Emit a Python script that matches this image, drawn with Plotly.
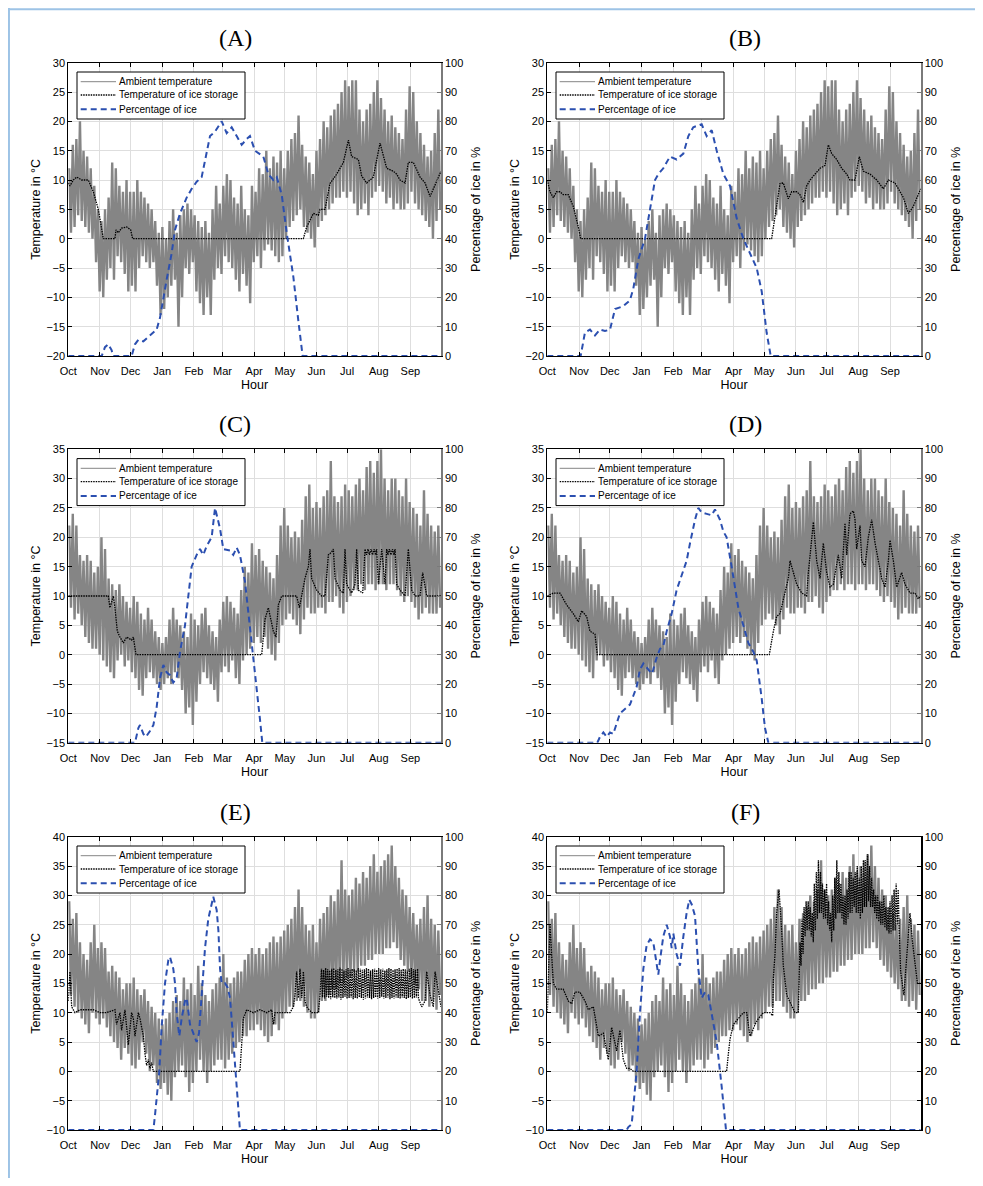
import plotly.graph_objects as go

PAGE_W, PAGE_H = 983, 1186
BODY_MARGIN = 8          # default HTML body margin: the figure starts at (8, 8) on the page
W, H = PAGE_W - 2 * BODY_MARGIN, PAGE_H - 2 * BODY_MARGIN

# ---------------- axis / label data ----------------
MONTHS = ["Oct", "Nov", "Dec", "Jan", "Feb", "Mar", "Apr", "May", "Jun", "Jul", "Aug", "Sep"]
MONTH_START_HOURS = [0, 744, 1464, 2208, 2952, 3624, 4368, 5088, 5832, 6552, 7296, 8040]
YEAR_HOURS = 8760
PANEL_LABELS = ["(A)", "(B)", "(C)", "(D)", "(E)", "(F)"]
SERIES_NAMES = ["Ambient temperature", "Temperature of ice storage", "Percentage of ice"]
TEMP_RANGES = [(-20, 30), (-20, 30), (-15, 35), (-15, 35), (-10, 40), (-10, 40)]

# ---------------- ambient temperature (half-week highs / lows, Oct -> Sep) ----------------
# climate 1 (panels A, B)
AMB1_HI = [12, 16, 17, 20, 15, 14, 12, 9, 5,
           3, 5, 7, 13, 12, 9, 8, 10, 8,
           8, 10, 8, 7, 6, 5, 3, 1, 2,
           0, 3, 5, 1, 4, 5, 6, 5, 4,
           3, 2, 3, 1, 5, 9, 6, 9,
           11, 10, 7, 6, 9, 5, 4, 9,
           8, 12, 11, 15, 12, 14, 13, 15, 12,
           15, 17, 18, 21, 16, 14, 13, 11, 15,
           17, 20, 19, 21, 22, 23, 25, 27,
           26, 27, 27, 22, 20, 22, 23, 25, 27,
           24, 22, 20, 21, 19, 18, 17, 22, 26,
           25, 20, 18, 16, 14, 15, 18, 22]
AMB1_LO = [1, 2, 4, 3, 2, 1, 0, -4, -9,
           -10, -7, -5, -7, -3, -4, -6, -9, -8,
           -9, -5, -3, -4, -5, -4, -8, -13, -12,
           -10, -8, -7, -15, -10, -5, -6, -4, -9,
           -11, -13, -10, -13, -7, -5, -6, -3,
           -4, -5, -7, -9, -6, -8, -11, -4,
           -3, -5, -2, -1, -2, -3, -4, -3, 0,
           2, 3, 4, 5, 2, 1, 0, -1.5, 2,
           3, 4, 5, 6, 7, 7, 8, 7,
           8, 6, 4, 5, 6, 4, 7, 8, 9,
           8, 6, 7, 5, 6, 5, 5, 6, 8,
           6, 5, 4, 3, 2, 0, 3, 5]
# climate 2 (panels C, D)
AMB2_HI = [22, 24, 22, 17, 16, 17, 16, 14, 15,
           20, 18, 13, 12, 11, 12, 10, 9, 8,
           10, 9, 7, 6, 8, 6, 4, 3, 2,
           3, 6, 8, 6, 5, 4, 3, 7, 6,
           5, 7, 8, 5, 4, 3, 6, 9,
           10, 9, 8, 7, 11, 15, 14, 19,
           17, 18, 16, 15, 14, 13, 17, 22, 25,
           22, 20, 21, 20, 23, 27, 29, 25, 26,
           25, 27, 28, 33, 27, 26, 27, 29,
           28, 27, 29, 30, 28, 32, 33, 31, 33,
           35, 30, 28, 30, 30, 28, 27, 30, 26,
           25, 24, 22, 28, 24, 22, 21, 22]
AMB2_LO = [8, 6, 7, 5, 3, 2, 1, 1, 0,
           -1, -2, -3, -4, -1, 0, -2, -1, -3,
           -4, -6, -7, -4, -3, -4, -5, -6, -5,
           -4, -5, -3, -4, -6, -10, -9, -12, -8,
           -5, -3, -4, -5, -6, -8, -3, -2,
           -3, -1, -4, -5, -1, 0, 1, 2,
           3, 2, 3, 1, 0, -1, 2, 5, 6,
           7, 6, 5, 3.5, 6, 8, 7, 7, 8,
           8, 7, 9, 9, 10, 8, 7, 9,
           10, 11, 11, 12, 11, 12, 12, 11, 12,
           12, 11, 12, 12, 11, 10, 9, 10, 9,
           8, 6, 7, 8, 7, 7, 7, 8]
# climate 3 (panels E, F)
AMB3_HI = [29, 26, 27, 22, 20, 19, 22, 25, 21,
           22, 21, 17, 18, 17, 16, 14, 15, 15,
           16, 14, 13, 14, 12, 11, 10, 9, 8,
           9, 10, 12, 13, 12, 16, 14, 15, 13,
           18, 15, 13, 12, 14, 15, 16, 20,
           16, 15, 16, 17, 17, 19, 20, 21,
           20, 21, 20, 21, 22, 23, 22, 23, 24,
           25, 26, 28, 31, 28, 25, 24, 25, 22,
           26, 27, 28, 30, 29, 31, 36, 31,
           30, 31, 33, 32, 34, 33, 35, 37, 34,
           35, 36, 37, 38.5, 35, 33, 31, 30, 28,
           27, 25, 26, 28, 30, 26, 25, 24]
AMB3_LO = [13, 11, 10, 9, 8, 6.5, 10, 9, 8,
           9, 7.5, 6, 5, 4, 2, 4, 3, 1,
           0.5, 2, 5, 3, 0, 1, -2, -3, -2,
           -4, -5, -1, 0, 1, -1, -3.5, -2, 0,
           2, 0, -2, 0, 1, 2, 2, 0.5,
           2, 3, 4, 5, 6, 6, 7, 7,
           8, 7, 6, 5, 6, 8, 7, 9, 10,
           11, 11, 12, 12, 11, 10, 9, 9, 10,
           12, 12, 13, 14, 14, 15, 15, 16,
           16, 17, 17, 18, 18, 19, 19, 20, 20,
           20, 21, 21, 22, 21, 19, 18, 17, 16,
           15, 14, 12, 12, 11, 12, 10.5, 13]

# ---------------- ice storage temperature (day since 1 Oct, degC) ----------------
A_STORE_DAY = [0, 1.6, 4.9, 8.2, 13.1, 19.6, 24.5, 29.4, 34.3, 45.7, 46.7, 49, 52.2, 57.1, 61.1,
               63, 230.2, 233.4, 240, 244.9, 246.5, 251.4, 256.3, 262.8, 269.4, 274.3, 277.5,
               284.1, 287.3, 292.2, 295.5, 298.7, 305.3, 311.8, 318.3, 321.6, 324.9, 329.8, 333,
               337.9, 344.5, 349.4, 354.3, 360.8, 365]
A_STORE_VAL = [9.5, 9, 10, 10.5, 10, 10, 8, 5, 0, 0, 1.5, 1, 1.8, 2, 1.5,
               0, 0, 2, 4.3, 4, 5, 5, 9.4, 11, 13, 16.8, 14,
               13.5, 10.7, 9.5, 10, 10.5, 16.3, 12, 11.5, 11, 10, 9.5, 13,
               13, 10.5, 9.5, 7.2, 10, 11.5]
B_STORE_DAY = [0, 2.6, 5.9, 9.1, 12.4, 15.6, 20.5, 25.4, 30.3, 32.6, 219.3, 222.6, 227.5, 230.7,
               235.6, 238.9, 243.8, 247, 250.3, 253.5, 256.8, 261.7, 266.6, 271.5, 274.7, 278,
               282.9, 287.8, 292.7, 295.9, 300.8, 305, 309, 315.5, 322, 328.5, 333.4, 339.9,
               348.1, 353, 357.8, 365]
B_STORE_VAL = [10, 8, 7, 8, 8, 7.5, 7.5, 5.5, 2, 0, 0, 4, 9.4, 9.5,
               6.8, 8, 8, 7.5, 6.2, 9, 10, 11, 12, 12.5, 16, 14.5,
               13.5, 12, 11, 10, 10, 14, 11.5, 11, 10, 8.5, 10, 9.5,
               7, 4.3, 5.5, 8.5]
C_STORE_DAY = [0, 39.2, 40.8, 44.1, 45.7, 48, 50.6, 53.9, 57.1, 62, 63.7, 66.3, 189.4, 192.6,
               195.9, 199.2, 200.8, 203.4, 205.7, 209, 223.6, 226.3, 228.6, 231.8, 235.1, 236.7,
               238.3, 243.2, 248.1, 251.4, 254.7, 257.9, 259.6, 261.2, 266.1, 269.4, 271, 272.6,
               277.5, 280.8, 282.4, 284.1, 288.3, 290.6, 292, 293.5, 295, 296.5, 298, 299.5, 301,
               302, 303.6, 306.9, 310.2, 311.8, 313, 314.5, 316, 317.5, 319, 320, 321.6, 324.9,
               329.8, 333, 336.3, 339.6, 344.5, 347.1, 351, 357.5, 365]
C_STORE_VAL = [10, 10, 8, 10, 8, 4, 3, 2, 3, 2.5, 3, 0, 0, 6,
               8, 5, 4, 3, 8.5, 10, 10, 8, 10, 13, 15, 18,
               13, 11, 10, 10, 17, 17.5, 18, 13, 11, 10.5, 18, 12,
               10.5, 12, 18, 11, 10.5, 18, 17, 18, 17, 18, 17, 18, 17,
               18, 12, 18, 12, 18, 17, 18, 17, 18, 17, 18, 12, 11,
               10, 18, 11, 10, 10, 14, 10, 10, 10]
D_STORE_DAY = [0, 5.9, 12.4, 18.9, 25.4, 30.3, 33.6, 38.5, 41.7, 46.6, 48.9, 217, 221, 224.2,
               227.5, 232.4, 235.6, 237.3, 240.5, 243.8, 248.7, 253.5, 255.2, 258.4, 260.1, 263.3,
               266.6, 269.8, 273.1, 276.4, 279.6, 284.5, 287.8, 291, 292.7, 295.9, 299.2, 300.8,
               302.4, 305.7, 307.3, 310.6, 313.8, 317.1, 318.7, 320.4, 323.6, 326.9, 330.1, 333.4,
               335, 338.3, 341.5, 344.8, 346.4, 349.7, 354.6, 359.5, 362.7, 365]
D_STORE_VAL = [10, 10.5, 10.5, 8.5, 7, 5.6, 7.5, 6.5, 4, 3.5, 0, 0, 4, 6.5,
               7, 10.5, 13, 16, 14, 12, 10.5, 10, 14, 20, 22.6, 16,
               13, 19, 14, 11.5, 12, 17, 13, 22.4, 17, 24, 24.5, 23,
               18, 22, 16, 15, 20, 23, 21, 19, 16, 13, 11.5, 16,
               19.5, 16, 11.5, 13, 14, 12, 10.5, 10.5, 9.5, 10]
E_STORE_DAY = [0, 0.7, 1.6, 3.3, 6.5, 11.4, 18, 24.5, 31, 37.5, 45.7, 47.3, 50.6, 52.2, 55.5,
               58.8, 62, 63.7, 65.3, 68.6, 70.2, 73.5, 75.1, 76.7, 78.4, 80, 81.6, 83.3, 168.1,
               169.8, 171.4, 174.7, 181.2, 187.7, 194.3, 199.2, 200.8, 202.4, 217.1, 220.4, 222,
               223.6, 225.3, 226.9, 228.6, 230.2, 231.8, 233.4, 238.3, 244.9, 246.5, 346.1, 349.4,
               351, 354.3, 357.5, 359.2, 365]
E_STORE_VAL = [12, 15, 17, 11, 10, 10.5, 10.5, 10.5, 10, 10, 10.5, 8, 10, 7, 10.5,
               4.5, 10, 9, 6, 10, 9, 6, 3, 1, 2, 0.5, 1.5, 0, 0,
               5, 9, 10.5, 10, 10.5, 10, 10.5, 8, 10, 10, 11, 13,
               17, 12.5, 17.5, 12.5, 17, 12, 11, 10, 10, 13, 11, 12,
               17, 13, 11, 17, 11]
# daily-cycling summer part of E (every other day: high, following day: low)
E_BAND_START_DAY = 248
E_BAND_HI = [17.5, 17.3, 17.6, 17.4, 17.2, 17.5, 17.6, 17.3, 17.4, 17.7, 17.5, 17.2, 17.4, 17.6, 17.3, 17.5,
             17.4, 17.2, 17.6, 17.5, 17.3, 17.4, 17.6, 17.5, 17.2, 17.4, 17.5, 17.3, 17.6, 17.4, 17.5, 17.2,
             17.4, 17.6, 17.5, 17.3, 17.4, 17.5, 17.6, 17.3, 17.5, 17.4, 17.2, 17.5, 17.6, 17.4, 17.3, 17.5]
E_BAND_LO = [12.6, 12.4, 12.7, 12.5, 12.3, 12.6, 12.5, 12.4, 12.6, 12.2, 12.5, 12.7, 12.4, 12.5, 12.6, 12.3,
             12.5, 12.4, 12.6, 12.5, 12.2, 12.4, 12.6, 12.5, 12.3, 12.5, 12.6, 12.4, 12.5, 12.7, 12.4, 12.5,
             12.6, 12.3, 12.5, 12.4, 12.6, 12.5, 12.4, 12.6, 12.5, 12.3, 12.5, 12.6, 12.4, 12.5, 12.6, 12.4]
F_STORE_DAY = [0, 1.3, 2.6, 4.2, 5.9, 9.1, 15.6, 20.5, 23.8, 27, 31.9, 36.8, 40.1, 45, 48.2,
               49.9, 54.8, 58, 59.6, 62.9, 66.2, 67.8, 71, 74.3, 77.6, 80.8, 84.1, 175.3, 177,
               178.6, 181.9, 186.7, 191.6, 194.9, 198.1, 199.8, 203, 206.3, 211.2, 217.7, 220.3,
               221, 222.6, 224.2, 226.5, 229.1, 230.7, 234, 238.9, 242.1, 245.4, 345.4, 348.6,
               351.9, 354.5, 357, 360.2, 361.8, 365]
F_STORE_VAL = [10, 18, 25, 20, 15, 14, 14, 12, 11.5, 13.5, 13.5, 12, 10.5, 11, 8,
               6, 6.5, 3, 2, 7.5, 5, 3.5, 7, 2, 0.5, 0.5, 0, 0, 3,
               5.5, 8, 9, 10, 10, 6, 6.5, 8, 9, 10, 10, 9.5,
               16, 20, 27, 31, 24, 18, 13, 11, 10, 10, 17, 13,
               20, 27, 22, 17, 15, 15]
F_BAND_START_DAY = 247
F_BAND_HI = [22, 26, 28, 29, 29, 28, 27, 32, 34, 36, 34, 32, 31, 32, 29, 27, 30, 33, 36, 34, 32, 30, 30, 31, 34,
             34, 33, 34, 35, 33, 35, 36, 36, 37, 35, 33, 31, 30, 30, 29, 29, 30, 28, 28, 29, 30, 31, 32, 31]
F_BAND_LO = [18, 20, 23, 24, 24, 23, 22, 24, 26, 27, 27, 26, 26, 25, 24, 22, 24, 26, 27, 27, 26, 25, 25, 26, 27,
             27, 28, 27, 27, 26, 27, 28, 28, 29, 28, 28, 27, 26, 25.5, 25, 25, 24.5, 24, 23.5, 23.5, 24, 24, 25, 24]

# ---------------- percentage of ice (day since 1 Oct, %) ----------------
A_ICE_DAY = [0, 32.7, 35.9, 39.2, 42.4, 44.1, 62, 65.3, 68.6, 73.5, 78.4, 83.3, 86.5, 89.8, 93.1, 96.3,
             101.2, 104.5, 109.4, 115.9, 120.8, 125.7, 130.6, 133.9, 138.8, 143.7, 150.2, 155.1, 160,
             164.9, 169.8, 174.7, 177.9, 182.8, 191, 195.9, 200.8, 204.1, 209, 213.9, 220.4, 225.3,
             229.5, 365]
A_ICE_VAL = [0, 0, 3, 4, 2, 0, 0, 4, 5.5, 5, 6.5, 8, 9, 13, 20, 26,
             35, 43, 48.6, 54, 57, 59.4, 61, 67, 75, 76.5, 80, 76, 78,
             75, 72, 74, 75, 70, 68, 62, 60, 61, 55, 42, 27, 12,
             0, 0]
B_ICE_DAY = [0, 32.6, 36.8, 41.7, 46.6, 51.5, 56.4, 61.3, 66.2, 74.3, 80.8, 84.1, 89, 95.5, 100.4,
             105.3, 108.5, 113.4, 119.9, 126.4, 133, 137.9, 142.7, 150.9, 155.8, 160.7, 165.6, 172.1,
             178.6, 185.1, 191.6, 198.1, 204.7, 209.6, 214.4, 218.4, 365]
B_ICE_VAL = [0, 0, 8, 9, 7, 9, 8.5, 9, 16, 17, 19, 23, 33, 40, 50,
             60, 62, 64, 68, 67, 69, 75, 78, 79, 75, 77, 70, 62,
             58, 47, 40, 35, 30, 22, 8, 0, 0]
C_ICE_DAY = [0, 65.3, 68.6, 70.2, 73.5, 76.1, 80, 83.3, 86.5, 89.8, 93.1, 96.3, 99.6, 102.8, 106.1,
             109.4, 114.3, 117.5, 120.8, 125.7, 129, 132.2, 135.5, 140.4, 143.7, 148.6, 151.8, 158.4,
             161.6, 164.9, 168.1, 173, 177.9, 182.8, 187.7, 190, 365]
C_ICE_VAL = [0, 0, 5, 6, 3, 2, 4, 6, 12, 22, 26.5, 24, 23, 20.5, 22,
             31, 40, 50, 60, 64, 66, 64, 67, 70, 80, 73, 66, 65.5,
             64, 66.5, 64, 55, 40, 25, 8, 0, 0]
D_ICE_DAY = [0, 48.9, 51.5, 54.8, 58, 61.3, 64.5, 69.4, 71, 74.3, 80.8, 84.1, 87.3, 90.6, 93.9, 98.7,
             102, 103.6, 106.9, 110.2, 113.4, 116.7, 121.6, 126.4, 131.3, 136.2, 139.5, 144.4, 147.6,
             150.9, 155.8, 160.7, 163.9, 168.8, 172.1, 175.3, 180.2, 186.7, 191.6, 196.5, 201.4,
             204.7, 209.6, 212.8, 216.1, 365]
D_ICE_VAL = [0, 0, 2, 3.5, 2, 3.5, 3, 8, 10, 11, 13, 16, 19, 25, 27, 25,
             23.5, 25, 29, 32, 33, 38, 44, 52, 57, 62, 68, 76, 80,
             78.5, 78, 77.5, 79.5, 76, 72, 70, 60, 46, 40, 34, 31,
             28, 15, 5, 0, 0]
E_ICE_DAY = [0, 83.3, 84.9, 86.5, 89.1, 91.4, 94.7, 98, 99.6, 102.8, 104.5, 106.1, 108.7, 111, 114.3,
             115.9, 119.2, 122.4, 125.7, 128, 130.6, 133.9, 137.1, 139.4, 142, 145.3, 147, 148.6, 150.2,
             153.5, 156.1, 158.4, 161.6, 164.9, 168.1, 365]
E_ICE_VAL = [0, 0, 5, 10, 20, 35, 50, 58, 59, 55, 50, 40, 32, 38, 44,
             45, 36, 33, 30, 33, 45, 62, 72, 76, 79.5, 75, 68, 55, 50,
             50, 48.5, 45, 30, 15, 0, 0]
F_ICE_DAY = [0, 77.6, 79.2, 82.5, 84.1, 87.3, 90.6, 93.9, 97.1, 100.4, 103.6, 106.2, 108.5, 110.2,
             113.4, 116.7, 119.9, 121.6, 123.2, 126.4, 129.7, 133, 136.2, 138.8, 141.1, 144.4, 147.6,
             150.9, 154.2, 157.4, 160.7, 165.6, 170.4, 174.7, 365]
F_ICE_VAL = [0, 0, 1, 2, 8, 20, 40, 55, 63, 65, 64, 58, 53, 58,
             66, 70, 66, 62, 67, 60, 56, 66, 74, 78.5, 77, 73, 55,
             45, 47, 46, 40, 30, 15, 0, 0]

# ---------------- styling ----------------
FONT = "Liberation Sans, Arial, sans-serif"
SERIF = "Liberation Serif, Times New Roman, serif"
GRAY = "#858585"
BLUE = "#2b4fb0"
GRID = "#dedede"
RIGHT_SPINE = ["#7a7a7a", "#7a7a7a", "#7a7a7a", "#7a7a7a", "#7a7a7a", "#000000"]
# plot areas in page pixels
COLS = [(68.3, 441.0), (547.3, 920.7)]
ROWS = [(62.7, 356.0), (449.3, 742.7), (836.7, 1130.0)]
TITLE_X = [235, 745]


def fx(p):
    return (p - BODY_MARGIN) / W


def fy(p):
    return 1 - (p - BODY_MARGIN) / H


def ambient_xy(hi, lo):
    step = YEAR_HOURS / len(hi)
    xs, ys = [], []
    for k, (h, l) in enumerate(zip(hi, lo)):
        xs += [(k + 0.25) * step, (k + 0.75) * step]
        ys += [h, l]
    return xs, ys


def series_xy(days, vals, band_start=None, band_hi=None, band_lo=None):
    pts = list(zip(days, vals))
    if band_start is not None:
        for i, (h, l) in enumerate(zip(band_hi, band_lo)):
            pts.append((band_start + 2 * i, h))
            pts.append((band_start + 2 * i + 1, l))
    pts.sort(key=lambda p: p[0])
    return [d * 24 for d, _ in pts], [v for _, v in pts]


PANELS = [
    dict(amb=(AMB1_HI, AMB1_LO), store=(A_STORE_DAY, A_STORE_VAL, None, None, None), ice=(A_ICE_DAY, A_ICE_VAL)),
    dict(amb=(AMB1_HI, AMB1_LO), store=(B_STORE_DAY, B_STORE_VAL, None, None, None), ice=(B_ICE_DAY, B_ICE_VAL)),
    dict(amb=(AMB2_HI, AMB2_LO), store=(C_STORE_DAY, C_STORE_VAL, None, None, None), ice=(C_ICE_DAY, C_ICE_VAL)),
    dict(amb=(AMB2_HI, AMB2_LO), store=(D_STORE_DAY, D_STORE_VAL, None, None, None), ice=(D_ICE_DAY, D_ICE_VAL)),
    dict(amb=(AMB3_HI, AMB3_LO), store=(E_STORE_DAY, E_STORE_VAL, E_BAND_START_DAY, E_BAND_HI, E_BAND_LO),
         ice=(E_ICE_DAY, E_ICE_VAL)),
    dict(amb=(AMB3_HI, AMB3_LO), store=(F_STORE_DAY, F_STORE_VAL, F_BAND_START_DAY, F_BAND_HI, F_BAND_LO),
         ice=(F_ICE_DAY, F_ICE_VAL)),
]

fig = go.Figure()
layout = dict(width=W, height=H, margin=dict(l=0, r=0, t=0, b=0),
              paper_bgcolor="white", plot_bgcolor="white", showlegend=False,
              shapes=[], annotations=[])

STORE_LINE = dict(color="black", width=1.3, dash="1.5px,1px")
ICE_LINE = dict(color=BLUE, width=2, dash="6px,4px")

for i, p in enumerate(PANELS):
    r, c = divmod(i, 2)
    x0, x1 = COLS[c]
    yt, yb = ROWS[r]
    xr = "x" if i == 0 else f"x{i + 1}"
    ylr = "y" if i == 0 else f"y{2 * i + 1}"
    yrr = f"y{2 * i + 2}"
    xkey = "xaxis" if i == 0 else f"xaxis{i + 1}"
    ylkey = "yaxis" if i == 0 else f"yaxis{2 * i + 1}"
    yrkey = f"yaxis{2 * i + 2}"

    ax_, ay_ = ambient_xy(*p["amb"])
    fig.add_trace(go.Scatter(x=ax_, y=ay_, mode="lines", name=SERIES_NAMES[0],
                             line=dict(color=GRAY, width=2.4), xaxis=xr, yaxis=ylr, hoverinfo="skip"))
    sx, sy = series_xy(*p["store"])
    fig.add_trace(go.Scatter(x=sx, y=sy, mode="lines", name=SERIES_NAMES[1],
                             line=STORE_LINE, xaxis=xr, yaxis=ylr))
    ix, iy = series_xy(*p["ice"])
    fig.add_trace(go.Scatter(x=ix, y=iy, mode="lines", name=SERIES_NAMES[2],
                             line=ICE_LINE, xaxis=xr, yaxis=yrr))

    lo, hi = TEMP_RANGES[i]
    tick_font = dict(family=FONT, size=11, color="black")
    title_font = dict(family=FONT, size=12.5, color="black")
    layout[xkey] = dict(domain=[fx(x0), fx(x1)], range=[0, YEAR_HOURS], anchor=ylr,
                        tickmode="array", tickvals=MONTH_START_HOURS, ticktext=MONTHS,
                        ticks="inside", ticklen=4, tickcolor="black", showline=True,
                        linecolor="black", linewidth=1, mirror="ticks", showgrid=True,
                        gridcolor=GRID, gridwidth=1, zeroline=False, tickfont=tick_font,
                        ticklabelstandoff=5,
                        title=dict(text="Hour", font=title_font, standoff=4), automargin=False)
    layout[ylkey] = dict(domain=[fy(yb), fy(yt)], range=[lo, hi], anchor=xr,
                         tickmode="linear", tick0=lo, dtick=5, ticks="inside", ticklen=4,
                         tickcolor="black", showline=True, linecolor="black", linewidth=1,
                         showgrid=True, gridcolor=GRID, gridwidth=1, zeroline=False,
                         tickfont=tick_font,
                         title=dict(text="Temperature in °C", font=title_font, standoff=3),
                         automargin=False)
    layout[yrkey] = dict(range=[0, 100], overlaying=ylr, anchor=xr, side="right",
                         tickmode="linear", tick0=0, dtick=10, ticks="inside", ticklen=4,
                         tickcolor=RIGHT_SPINE[i], showline=True, linecolor=RIGHT_SPINE[i],
                         linewidth=1.5, showgrid=False, zeroline=False, tickfont=tick_font,
                         title=dict(text="Percentage of ice in %", font=title_font, standoff=9),
                         automargin=False)

    # panel label
    layout["annotations"].append(dict(text=PANEL_LABELS[i], x=fx(TITLE_X[c]), y=fy(yt - 25),
                                      xref="paper", yref="paper", xanchor="center", yanchor="middle",
                                      showarrow=False, font=dict(family=SERIF, size=24, color="black")))
    # legend box
    bx0, by0 = x0 + 8.7, yt + 9.3
    bx1, by1 = bx0 + 168, by0 + 47
    layout["shapes"].append(dict(type="rect", xref="paper", yref="paper", x0=fx(bx0), x1=fx(bx1),
                                 y0=fy(by1), y1=fy(by0), line=dict(color="black", width=1),
                                 fillcolor="white", layer="above"))
    rows_y = [yt + 19, yt + 32.3, yt + 46.6]
    styles = [dict(color=GRAY, width=1), STORE_LINE, ICE_LINE]
    for name, ry, st in zip(SERIES_NAMES, rows_y, styles):
        layout["shapes"].append(dict(type="line", xref="paper", yref="paper",
                                     x0=fx(x0 + 12.4), x1=fx(x0 + 47.7), y0=fy(ry), y1=fy(ry),
                                     line=st, layer="above"))
        layout["annotations"].append(dict(text=name, x=fx(x0 + 49), y=fy(ry), xref="paper", yref="paper",
                                          xanchor="left", yanchor="middle", showarrow=False,
                                          font=dict(family=FONT, size=10, color="black")))

# light blue page frame (left and top edges)
layout["shapes"].append(dict(type="line", xref="paper", yref="paper", x0=0.001, x1=0.001,
                             y0=0, y1=1, line=dict(color="#9dc3e6", width=2)))
layout["shapes"].append(dict(type="line", xref="paper", yref="paper", x0=0, x1=1,
                             y0=0.999, y1=0.999, line=dict(color="#9dc3e6", width=2)))

fig.update_layout(**layout)
fig.write_html("out.html")
